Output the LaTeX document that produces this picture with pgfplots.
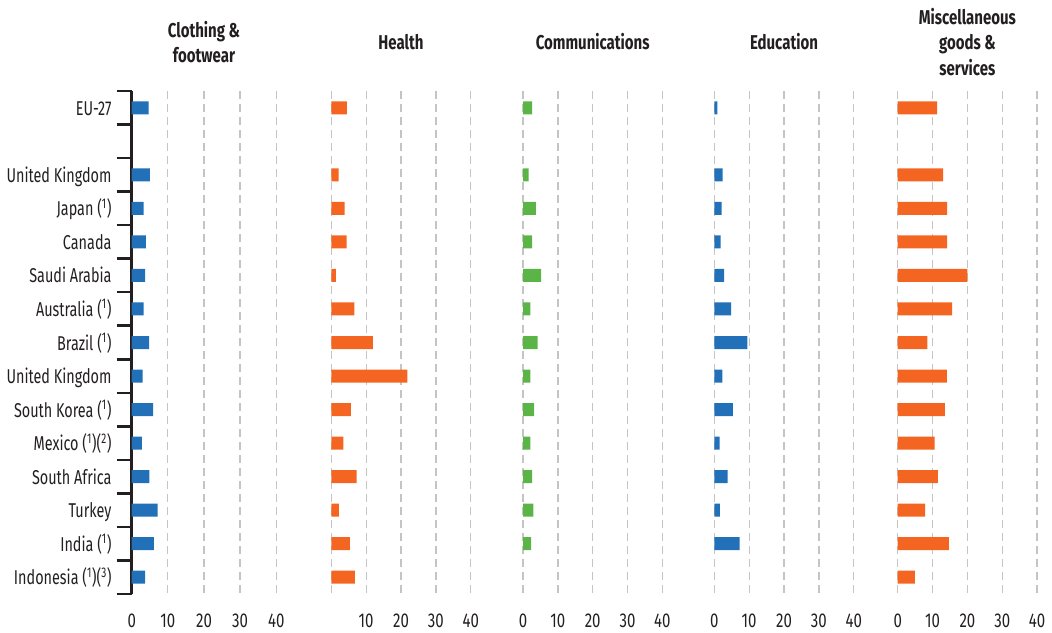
\documentclass[border=0pt]{standalone}
\usepackage{fontspec}
\setmainfont[FakeStretch=0.75]{Fira Sans}
\newfontfamily\labfont[FakeStretch=0.72]{Fira Sans}
\usepackage{pgfplots}
\usepackage{pgfplotstable}
\pgfplotsset{compat=1.18}

\definecolor{cblue}{HTML}{2270B8}
\definecolor{corange}{HTML}{F46522}
\definecolor{cgreen}{HTML}{5AB446}
\definecolor{cgrid}{HTML}{C4C4C4}
\definecolor{ctext}{HTML}{231F20}

% row 2 is the empty gap under EU-27
\pgfplotstableread{
row cloth health comm edu misc
1  4.7  4.5  2.6  0.9  11.3
3  5.0  2.1  1.6  2.4  13.0
4  3.3  3.8  3.7  2.1  14.2
5  3.9  4.4  2.6  1.8  14.2
6  3.7  1.3  5.2  2.8  20.0
7  3.3  6.6  2.1  4.8  15.6
8  4.8  11.9 4.2  9.5  8.5
9  3.0  21.8 2.1  2.3  14.1
10 5.9  5.6  3.2  5.3  13.5
11 2.8  3.5  2.1  1.5  10.6
12 4.9  7.3  2.6  3.8  11.5
13 7.2  2.2  3.0  1.6  7.9
14 6.1  5.3  2.3  7.3  14.7
15 3.7  6.8  nan  nan  4.9
}\data

\pgfplotsset{
  panel/.style={
    scale only axis, width=139.4pt, height=503pt,
    anchor=south west,
    xmin=0, xmax=40, ymin=0.5, ymax=15.5, y dir=reverse,
    xtick={0,10,20,30,40},
    ytick=\empty,
    axis line style={draw=none},
    major tick length=0pt,
    xmajorgrids,
    major grid style={cgrid, line width=1.3pt, dash pattern=on 8pt off 5pt},
    /pgf/number format/assume math mode=true,
    tick label style={font=\fontsize{20}{24}\selectfont, text=ctext},
    xticklabel style={anchor=base, yshift=-33pt},
    title style={at={(0.5,1)}, anchor=center, yshift=43pt, align=center,
      font=\fontsize{20}{25.5}\selectfont\bfseries, text=ctext},
    clip=false,
  },
  bars/.style={xbar, bar width=13pt, draw=none, fill=#1},
}

\begin{document}
\begin{tikzpicture}
\useasboundingbox (-131.7pt,-38pt) rectangle (920.3pt,594pt);

\begin{axis}[panel, at={(0pt,0pt)}, width=144.6pt,
  title={Clothing \&\\footwear},
  axis y line*=left,
  y axis line style={draw=ctext, line width=2.5pt},
  ytick={1,3,4,5,6,7,8,9,10,11,12,13,14,15},
  yticklabels={EU-27, United Kingdom, Japan (\textsuperscript{1}), Canada,
    Saudi Arabia, Australia (\textsuperscript{1}), Brazil (\textsuperscript{1}),
    United Kingdom, South Korea (\textsuperscript{1}),
    Mexico (\textsuperscript{1})(\textsuperscript{2}), South Africa, Turkey,
    India (\textsuperscript{1}), Indonesia (\textsuperscript{1})(\textsuperscript{3})},
  yticklabel style={anchor=base east, xshift=-16.7pt, yshift=-7.5pt,
    font=\fontsize{20}{24}\selectfont\labfont},
  minor ytick={0.5,1.5,...,15.5},
  minor tick length=15pt,
  tick align=outside,
  minor tick style={line width=2.5pt, ctext},
]
\addplot[bars=cblue] table[x=cloth, y=row] {\data};
\end{axis}

\begin{axis}[panel, at={(199.6pt,0pt)}, title={Health},
  xticklabels={,10,20,30,40}]
\addplot[bars=corange] table[x=health, y=row] {\data};
\end{axis}

\begin{axis}[panel, at={(391.3pt,0pt)}, title={Communications}]
\addplot[bars=cgreen] table[x=comm, y=row] {\data};
\end{axis}

\begin{axis}[panel, at={(582.6pt,0pt)}, title={Education}]
\addplot[bars=cblue] table[x=edu, y=row] {\data};
\end{axis}

\begin{axis}[panel, at={(766pt,0pt)}, title={Miscellaneous\\goods \&\\services}]
\addplot[bars=corange] table[x=misc, y=row] {\data};
\end{axis}
\end{tikzpicture}
\end{document}
